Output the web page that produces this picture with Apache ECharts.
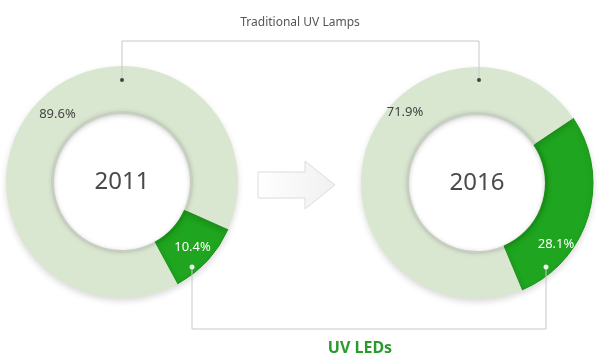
<!DOCTYPE html>
<html>
<head>
<meta charset="utf-8">
<script src="https://cdn.jsdelivr.net/npm/echarts@6/dist/echarts.min.js"></script>
<style>html,body{margin:0;padding:0;background:#fff}#c{width:600px;height:363px}</style>
</head>
<body>
<div id="c"></div>
<script>
var years = ['2011', '2016'];
var categories = ['UV LEDs', 'Traditional UV Lamps'];
var uvLeds = [10.4, 28.1];
var uvLamps = [89.6, 71.9];

var centers = [[122, 182], [477, 183]];
var startAngles = [-24, 34];
var ledOffsets = [[0, 0], [-13, 34]];
var lampOffsets = [[6, -3], [20, -43]];
var FONT = '"Noto Sans", "Open Sans", sans-serif';
var GREEN = '#1fa51f';
var LIGHT = '#dae7d0';

var chart = echarts.init(document.getElementById('c'), null, {renderer: 'canvas'});
var series = [];
years.forEach(function (y, i) {
  series.push({
    type: 'pie',
    name: y,
    center: centers[i],
    radius: [70, 116],
    startAngle: startAngles[i],
    clockwise: true,
    silent: true,
    animation: false,
    avoidLabelOverlap: false,
    itemStyle: {shadowColor: 'rgba(0,0,0,0.15)', shadowBlur: 6, shadowOffsetY: 3},
    labelLine: {show: false},
    label: {show: true, position: 'inside', formatter: function (p) { return p.value.toFixed(1) + '%'; }, fontFamily: FONT, fontSize: 13},
    data: [
      {name: categories[0], value: uvLeds[i], itemStyle: {color: GREEN, borderColor: '#199419', borderWidth: 1},
       label: {color: '#ffffff', offset: ledOffsets[i]}},
      {name: categories[1], value: uvLamps[i], itemStyle: {color: LIGHT},
       label: {color: '#444444', offset: lampOffsets[i]}}
    ]
  });
  // inner edge shading ring
  series.push({
    type: 'pie',
    center: centers[i],
    radius: [68, 71],
    startAngle: startAngles[i],
    silent: true,
    animation: false,
    label: {show: false},
    labelLine: {show: false},
    itemStyle: {shadowColor: 'rgba(0,0,0,0.12)', shadowBlur: 4},
    data: [
      {value: uvLeds[i], itemStyle: {color: '#179017'}},
      {value: uvLamps[i], itemStyle: {color: '#c6cfc0'}}
    ]
  });
});

var graphic = [];
years.forEach(function (y, i) {
  graphic.push({type: 'text', z: 100, x: centers[i][0], y: centers[i][1], style: {text: y, fill: '#4a4a4a', font: '24px ' + FONT, textAlign: 'center', textVerticalAlign: 'middle'}});
});
// top bracket
graphic.push({type: 'polyline', z: 100, shape: {points: [[122, 80], [122, 41], [479, 41], [479, 80]]}, style: {stroke: '#c8c8c8', lineWidth: 1, fill: null}});
graphic.push({type: 'circle', z: 101, shape: {cx: 122, cy: 80, r: 2}, style: {fill: '#444'}});
graphic.push({type: 'circle', z: 101, shape: {cx: 479, cy: 80, r: 2}, style: {fill: '#444'}});
graphic.push({type: 'text', z: 100, x: 300, y: 23, style: {text: categories[1], fill: '#555', font: '12px ' + FONT, textAlign: 'center', textVerticalAlign: 'middle'}});
// bottom bracket
graphic.push({type: 'polyline', z: 100, shape: {points: [[192, 267], [192, 329], [546, 329], [546, 267]]}, style: {stroke: '#c8c8c8', lineWidth: 1, fill: null}});
graphic.push({type: 'circle', z: 101, shape: {cx: 192, cy: 267, r: 2.5}, style: {fill: '#e8f5e8'}});
graphic.push({type: 'circle', z: 101, shape: {cx: 546, cy: 267, r: 2.5}, style: {fill: '#e8f5e8'}});
graphic.push({type: 'text', z: 100, x: 360, y: 348, style: {text: categories[0], fill: '#2a9b2a', font: 'bold 16px ' + FONT, textAlign: 'center', textVerticalAlign: 'middle'}});
// arrow
graphic.push({type: 'polygon', z: 100, shape: {points: [[258, 172], [305, 172], [305, 161], [335, 185], [305, 209], [305, 198], [258, 198]]},
  style: {fill: new echarts.graphic.LinearGradient(0, 0, 1, 0, [{offset: 0, color: '#ffffff'}, {offset: 1, color: '#f0f0f0'}]), stroke: '#dcdcdc', lineWidth: 1}});

chart.setOption({
  backgroundColor: '#ffffff',
  animation: false,
  series: series,
  graphic: graphic
});
</script>
</body>
</html>
